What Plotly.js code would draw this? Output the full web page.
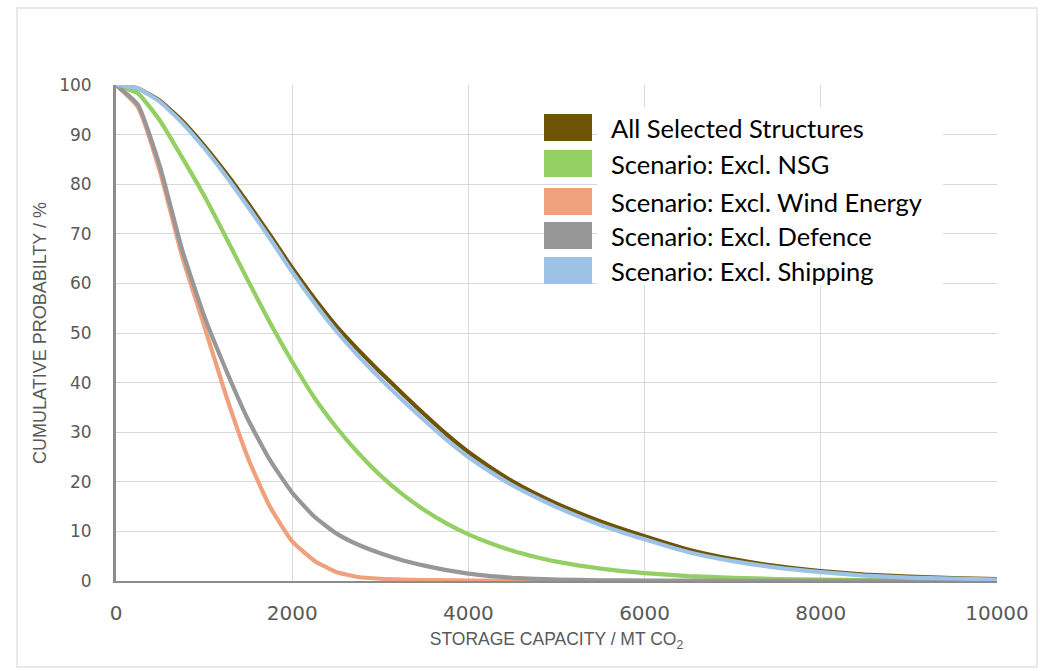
<!DOCTYPE html>
<html>
<head>
<meta charset="utf-8">
<script src="https://cdn.plot.ly/plotly-3.0.1.min.js"></script>
<style>html,body{margin:0;padding:0;background:#fff;}#chart{width:1040px;height:671px;}</style>
</head>
<body>
<div id="chart"></div>
<script>
// ---- data ----
const capacity = [0,250,500,750,1000,1250,1500,1750,2000,2250,2500,2750,3000,3250,3500,3750,4000,4250,4500,4750,5000,5500,6000,6500,7000,7500,8000,8500,9000,9500,10000];
const allSelected = [100,99.3,96.8,92.8,87.8,82.2,76.1,69.7,63.1,57,51.4,46.6,42.1,37.8,33.6,29.6,26,22.9,20.1,17.7,15.6,12,9,6.3,4.4,3,2,1.3,0.9,0.6,0.4];
const exclNSG = [100,98.3,92.8,85.4,77.7,69.2,60.5,52,44.2,37,31,25.8,21.3,17.5,14.3,11.6,9.4,7.6,6.1,4.9,3.9,2.5,1.6,1,0.65,0.4,0.3,0.2,0.15,0.1,0.1];
const exclWind = [100,95.5,82.5,65.5,51.5,37.3,24.7,14.9,8,4.1,1.8,0.8,0.45,0.3,0.2,0.15,0.1,0.07,0.05,0.03,0.02,0.01,0.01,0,0,0,0,0,0,0,0];
const exclDefence = [100,96,83.5,66.8,53.5,42.5,32.5,24.3,17.8,13,9.6,7.3,5.6,4.2,3.1,2.2,1.5,1,0.65,0.45,0.3,0.15,0.1,0.07,0.05,0.04,0.03,0.02,0.02,0.01,0.01];
const exclShipping = [100,99.3,96.6,92.4,87.3,81.6,75.4,69,62.3,56.1,50.4,45.4,40.8,36.5,32.4,28.5,25,22,19.3,17,14.9,11.3,8.4,5.8,4,2.7,1.8,1.1,0.7,0.5,0.3];

const seriesNames = ["All Selected Structures","Scenario: Excl. NSG","Scenario: Excl. Wind Energy","Scenario: Excl. Defence","Scenario: Excl. Shipping"];
const seriesColors = ["#6f5408","#93cf63","#f0a07c","#979797","#9cc2e5"];
const seriesValues = [allSelected, exclNSG, exclWind, exclDefence, exclShipping];

const xTicks = [0,2000,4000,6000,8000,10000];
const yTicks = [0,10,20,30,40,50,60,70,80,90,100];

// ---- layout helpers (pixel -> paper) ----
const W = 1040, H = 671;
const mL = 116, mR = 43, mT = 85, mB = 90;
const pw = W - mL - mR, ph = H - mT - mB;
const px = x => (x - mL) / pw;
const py = y => (H - mB - y) / ph;

const traces = seriesValues.map((vals, i) => ({
  type: 'scatter', mode: 'lines', x: capacity, y: vals, name: seriesNames[i],
  line: {color: seriesColors[i], width: 4.2, shape: 'spline', smoothing: 0.45},
  showlegend: false, hoverinfo: 'skip'
}));

const shapes = [
  // outer frame
  {type:'rect', xref:'paper', yref:'paper', x0:px(17), x1:px(1037), y0:py(8), y1:py(667),
   line:{color:'#e2e2e2', width:1.5}, layer:'below'},
  // legend white box
  {type:'rect', xref:'paper', yref:'paper', x0:px(597), x1:px(943), y0:py(107), y1:py(285),
   fillcolor:'#ffffff', line:{width:0}, layer:'above'}
];
const annotations = [];
const rowTop = [114,150,188,222,257];
seriesNames.forEach((n, i) => {
  shapes.push({type:'rect', xref:'paper', yref:'paper', x0:px(544), x1:px(592),
    y0:py(rowTop[i]), y1:py(rowTop[i]+27), fillcolor:seriesColors[i], line:{width:0}, layer:'above'});
  annotations.push({xref:'paper', yref:'paper', x:px(609), y:py(rowTop[i]+13.5), xanchor:'left', yanchor:'middle',
    text:n, showarrow:false, font:{family:'Lato, sans-serif', size:25.5, color:'#000000'}});
});

const layout = {
  width: W, height: H,
  margin: {l: mL, r: mR, t: mT, b: mB},
  paper_bgcolor: '#ffffff', plot_bgcolor: '#ffffff',
  showlegend: false,
  xaxis: {
    range: [0, 10000], tickvals: xTicks, ticktext: xTicks.map(String),
    showgrid: true, gridcolor: '#d9d9d9', gridwidth: 1,
    zeroline: false, showline: true, linecolor: '#8c8c8c', linewidth: 2,
    ticks: '', ticklabelstandoff: 13,
    tickfont: {family: 'DejaVu Sans, sans-serif', size: 20, color: '#595959'},
    title: {text: 'STORAGE CAPACITY / MT CO<sub>2</sub>', standoff: 9,
      font: {family: 'Liberation Sans, sans-serif', size: 17.5, color: '#595959'}},
    fixedrange: true
  },
  yaxis: {
    range: [0, 100], tickvals: yTicks, ticktext: yTicks.map(String),
    showgrid: true, gridcolor: '#d9d9d9', gridwidth: 1,
    zeroline: false, showline: true, linecolor: '#8c8c8c', linewidth: 3,
    ticks: '', ticklabelstandoff: 18,
    tickfont: {family: 'DejaVu Sans, sans-serif', size: 17, color: '#595959'},
    title: {text: 'CUMULATIVE PROBABILTY / %', standoff: 8,
      font: {family: 'Liberation Sans, sans-serif', size: 18, color: '#595959'}},
    fixedrange: true
  },
  shapes: shapes,
  annotations: annotations
};

Plotly.newPlot('chart', traces, layout, {displayModeBar: false, staticPlot: true});
</script>
</body>
</html>
